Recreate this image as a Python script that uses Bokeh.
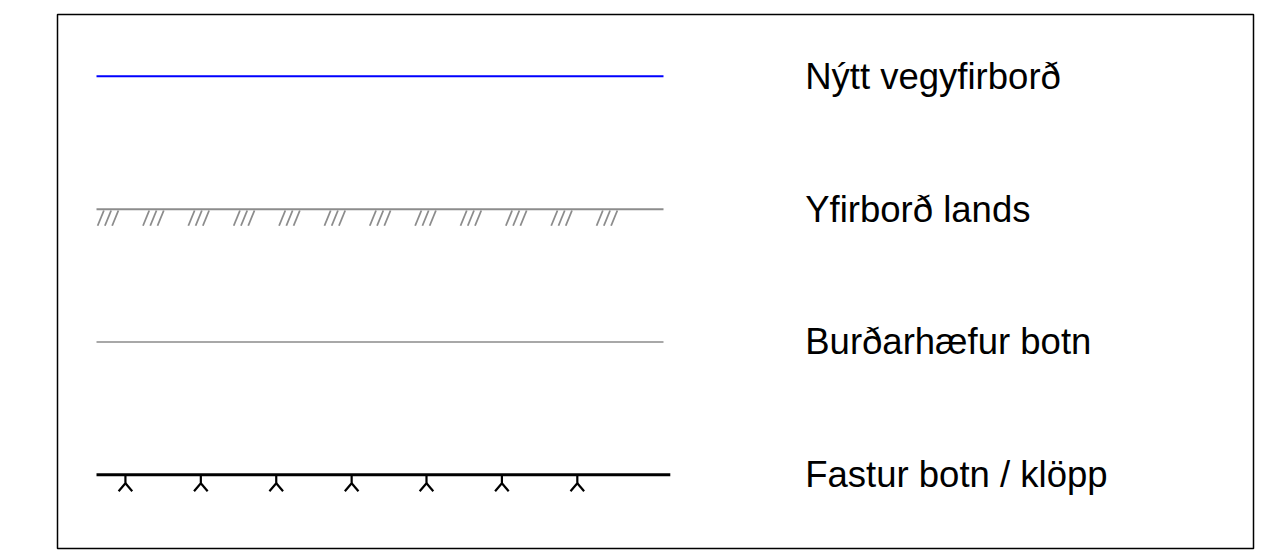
from bokeh.plotting import figure
from bokeh.models import Range1d, ColumnDataSource
from bokeh.core.properties import value
from bokeh.embed import file_html
from bokeh.resources import INLINE

# Legend rows (top to bottom)
labels = ["Nýtt vegyfirborð", "Yfirborð lands", "Burðarhæfur botn", "Fastur botn / klöpp"]
rows = [0, 1, 2, 3]
line_start = [0.0, 0.0, 0.0, 0.0]
line_end = [1.0, 1.0, 1.0, 1.012]
line_colors = ["#0000ff", "#8c8c8c", "#a8a8a8", "#000000"]
line_widths = [2, 2, 2, 3]

# Hatch groups ("///") under the ground-surface line, positions along the line (0..1)
hatch_pos = [0.0, 0.08, 0.16, 0.24, 0.32, 0.40, 0.48, 0.56, 0.64, 0.72, 0.80, 0.88]
# Rock symbols under the bedrock line
rock_pos = [0.051, 0.184, 0.317, 0.450, 0.582, 0.715, 0.848]

label_x = 1.25

p = figure(width=1262, height=550, output_backend="svg", toolbar_location=None,
           x_range=Range1d(-0.0688, 2.0406), y_range=Range1d(3.556, -0.466),
           min_border_left=57, min_border_right=9, min_border_top=14, min_border_bottom=2)
p.axis.visible = False
p.grid.visible = False
p.outline_line_color = "#000000"
p.outline_line_width = 1.5
p.background_fill_color = "white"
p.border_fill_color = "white"

src = ColumnDataSource(dict(x0=line_start, x1=line_end, y=rows, c=line_colors, w=line_widths))
p.segment(x0="x0", y0="y", x1="x1", y1="y", line_color="c", line_width="w", source=src)

# hatch slashes
hx0, hy0, hx1, hy1 = [], [], [], []
for g in hatch_pos:
    for k in range(3):
        bx = g + 0.002 + k * 0.0128
        hx0.append(bx)
        hy0.append(rows[1] + 0.125)
        hx1.append(bx + 0.011)
        hy1.append(rows[1] + 0.01)
p.segment(x0=hx0, y0=hy0, x1=hx1, y1=hy1, line_color="#8c8c8c", line_width=1.8)

# rock symbols (inverted Y)
xs, ys = [], []
for r in rock_pos:
    yb = rows[3]
    xs.append([r, r, r - 0.012]); ys.append([yb, yb + 0.065, yb + 0.125])
    xs.append([r, r + 0.012]); ys.append([yb + 0.065, yb + 0.125])
p.multi_line(xs=xs, ys=ys, line_color="#000000", line_width=2.2)

p.text(x=[label_x] * 4, y=rows, text=labels, text_font=value("Liberation Sans"),
       text_font_size="36.5px", text_baseline="middle", text_align="left", text_color="#000000")

open("out.html", "w").write(file_html(p, INLINE))
